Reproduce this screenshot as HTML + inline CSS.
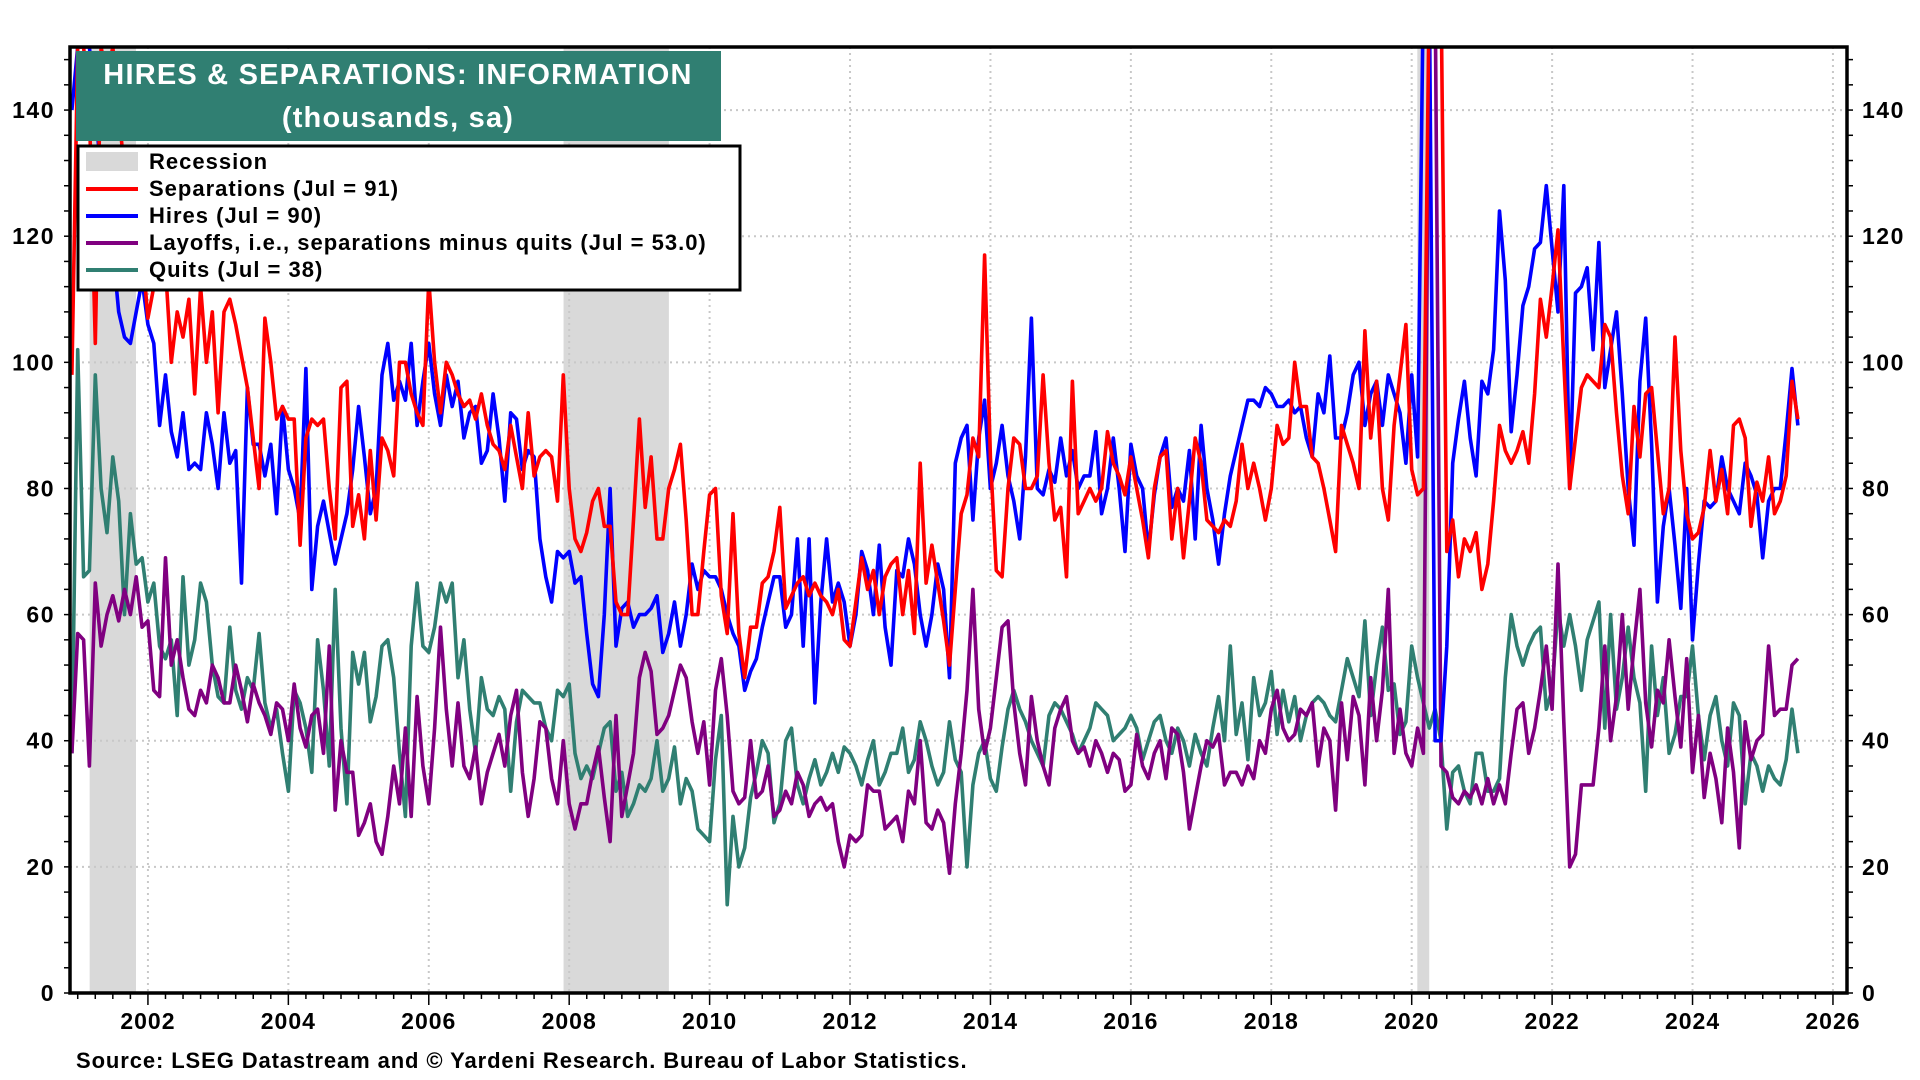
<!DOCTYPE html>
<html><head><meta charset="utf-8"><style>
html,body{margin:0;padding:0;background:#fff;}
svg{display:block;font-family:"Liberation Sans",Arial,sans-serif;}
</style></head><body>
<svg id="chart" width="1920" height="1080" viewBox="0 0 1920 1080" xmlns="http://www.w3.org/2000/svg">
<defs><clipPath id="plotclip"><rect x="70" y="47" width="1777" height="946"/></clipPath></defs>
<g id="recess" clip-path="url(#plotclip)"></g>
<g id="grid"></g>
<g id="series" clip-path="url(#plotclip)"></g>
<rect x="70" y="47" width="1777" height="946" fill="none" stroke="#000" stroke-width="3.5"/>
<g id="axes"></g>
<g>
<rect x="76" y="51" width="645" height="90" fill="#307F72"/>
<text x="398" y="84" text-anchor="middle" fill="#fff" font-size="29" font-weight="bold" letter-spacing="1.2">HIRES &amp; SEPARATIONS: INFORMATION</text>
<text x="398" y="127" text-anchor="middle" fill="#fff" font-size="29" font-weight="bold" letter-spacing="1.2">(thousands, sa)</text>
</g>
<g font-size="22" font-weight="bold" letter-spacing="1">
<rect x="78" y="146" width="662" height="144" fill="#fff" stroke="#000" stroke-width="3"/>
<rect x="86" y="152" width="52" height="19" fill="#d9d9d9"/>
<text x="149" y="169">Recession</text>
<line x1="86" y1="189" x2="138" y2="189" stroke="#ff0000" stroke-width="4"/>
<text x="149" y="196">Separations (Jul = 91)</text>
<line x1="86" y1="216" x2="138" y2="216" stroke="#0000ff" stroke-width="4"/>
<text x="149" y="223">Hires (Jul = 90)</text>
<line x1="86" y1="243" x2="138" y2="243" stroke="#800080" stroke-width="4"/>
<text x="149" y="250">Layoffs, i.e., separations minus quits (Jul = 53.0)</text>
<line x1="86" y1="270" x2="138" y2="270" stroke="#307F72" stroke-width="4"/>
<text x="149" y="277">Quits (Jul = 38)</text>
</g>
<text x="76" y="1068" font-size="22" font-weight="bold" letter-spacing="0.9">Source: LSEG Datastream and © Yardeni Research. Bureau of Labor Statistics.</text>
</svg>
<script>
// Monthly data starting Dec 2000
const startYear = 2000 + 11/12;
const separations = [98,
150,150,140,103,150,145,150,140,130,120,115,118,
107,112,120,115,100,108,104,110,95,112,100,108,
92,108,110,106,101,96,88,80,107,100,91,93,
91,91,71,88,91,90,91,80,72,96,97,74,
79,72,86,75,88,86,82,100,100,95,92,90,
113,100,92,100,98,95,93,94,91,95,90,87,
86,83,90,85,80,92,82,85,86,85,78,98,
80,72,70,73,78,80,74,74,62,60,60,75,
91,77,85,72,72,80,83,87,75,60,60,70,
79,80,63,57,76,57,50,58,58,65,66,70,
77,61,63,65,66,63,65,63,62,60,64,56,
55,62,69,64,67,60,66,68,69,60,67,57,
84,65,71,65,59,52,64,76,79,88,85,117,
85,67,66,80,88,87,80,80,82,98,84,75,
77,66,97,76,78,80,78,80,89,84,82,79,
85,80,75,69,80,85,86,72,80,69,78,88,
84,75,74,73,75,74,78,87,80,84,80,75,
80,90,87,88,100,93,93,85,84,80,75,70,
90,87,84,80,105,88,97,80,75,90,98,106,
83,79,80,160,160,160,70,75,66,72,70,73,
64,68,78,90,86,84,86,89,84,95,110,104,
112,121,100,80,88,96,98,97,96,106,104,92,
82,76,93,85,95,96,86,76,80,104,86,76,
72,73,77,86,78,83,76,90,91,88,74,81,
78,85,76,78,82,97,91];
const hires = [140,
150,150,150,140,130,125,118,108,104,103,108,113,
106,103,90,98,89,85,92,83,84,83,92,87,
80,92,84,86,65,96,87,87,82,87,76,93,
83,80,75,99,64,74,78,73,68,72,76,83,
93,85,76,80,98,103,94,97,94,103,90,97,
103,95,90,98,93,97,88,92,93,84,86,95,
88,78,92,91,83,86,85,72,66,62,70,69,
70,65,66,57,49,47,60,80,55,61,62,58,
60,60,61,63,54,57,62,55,60,68,64,67,
66,66,64,60,57,55,48,51,53,58,62,66,
66,58,60,72,55,72,46,62,72,62,65,62,
55,60,70,67,60,71,58,52,67,66,72,68,
60,55,60,68,64,50,84,88,90,75,88,94,
80,84,90,82,78,72,85,107,80,79,83,81,
88,82,86,80,82,82,89,76,80,88,80,70,
87,82,80,70,79,85,88,77,80,78,86,72,
90,80,75,68,76,82,86,90,94,94,93,96,
95,93,93,94,92,93,88,85,95,92,101,88,
88,92,98,100,90,95,97,90,98,95,92,84,
98,85,160,160,40,40,55,84,91,97,88,82,
97,95,102,124,113,89,98,109,112,118,119,128,
118,108,128,80,111,112,115,102,119,96,102,108,
95,80,71,97,107,87,62,74,80,71,61,80,
56,68,78,77,78,85,80,78,76,84,82,79,
69,78,80,80,89,99,90];
const layoffs = [38,
57,56,36,65,55,60,63,59,64,60,66,58,
59,48,47,69,52,56,50,45,44,48,46,52,
50,46,46,52,48,43,49,46,44,41,46,45,
40,49,42,39,44,45,38,55,29,40,35,35,
25,27,30,24,22,28,36,30,42,28,47,36,
30,42,58,45,36,46,36,34,39,30,35,38,
41,36,44,48,35,28,34,43,42,34,30,40,
30,26,30,30,35,39,31,24,44,28,33,38,
50,54,51,41,42,44,48,52,50,43,38,43,
33,48,53,44,32,30,31,40,31,32,36,28,
29,32,30,35,33,28,30,31,29,30,24,20,
25,24,25,33,32,32,26,27,28,24,32,30,
40,27,26,29,27,19,30,38,48,64,45,38,
42,50,58,59,46,38,33,47,40,36,33,42,
45,47,40,38,39,36,40,38,35,38,37,32,
33,41,36,34,38,40,34,42,41,35,26,31,
36,40,39,41,33,35,35,33,36,34,40,38,
45,48,42,40,41,45,44,46,36,42,40,29,
46,37,47,44,33,50,40,48,64,38,45,38,
36,42,38,160,160,36,35,31,30,32,31,33,
30,34,30,33,30,38,45,46,38,42,48,55,
45,68,43,20,22,33,33,33,42,55,40,47,
60,45,55,64,46,39,48,46,56,47,39,53,
35,44,31,38,34,27,42,35,23,43,37,40,
41,55,44,45,45,52,53];
const quits = [38,
102,66,67,98,80,73,85,78,60,76,68,69,
62,65,55,53,56,44,66,52,56,65,62,52,
47,46,58,48,45,50,48,57,46,42,45,38,
32,48,46,42,35,56,48,36,64,42,30,54,
49,54,43,47,55,56,50,38,28,55,65,55,
54,58,65,62,65,50,56,45,38,50,45,44,
47,45,32,43,48,47,46,46,42,40,48,47,
49,38,34,36,34,38,42,43,32,35,28,30,
33,32,34,40,32,34,39,30,34,32,26,25,
24,37,44,14,28,20,23,31,35,40,38,27,
30,40,42,33,30,34,37,33,35,38,35,39,
38,36,33,37,40,33,35,38,38,42,35,37,
43,40,36,33,35,43,37,35,20,33,38,40,
34,32,39,45,48,45,43,40,38,36,44,46,
45,43,41,38,40,42,46,45,44,40,41,42,
44,42,37,40,43,44,40,38,42,40,36,41,
38,36,42,47,40,55,41,46,37,50,44,46,
51,41,48,43,47,40,44,46,47,46,44,43,
48,53,50,47,59,44,52,58,48,49,41,43,
55,50,46,42,45,40,26,35,36,32,30,38,
38,32,32,34,50,60,55,52,55,57,58,45,
48,61,55,60,55,48,56,59,62,42,60,45,
50,58,50,46,32,55,44,50,38,41,47,47,
55,44,37,44,47,40,36,46,44,30,38,36,
32,36,34,33,37,45,38];
const recessionStarts = [2001.17, 2007.92, 2020.08];
const recessionEnds = [2001.83, 2009.42, 2020.25];
const yTicks = [0,20,40,60,80,100,120,140];
const xTickYears = [2002,2004,2006,2008,2010,2012,2014,2016,2018,2020,2022,2024,2026];

const NS = "http://www.w3.org/2000/svg";
const L = 70, R = 1847, T = 47, B = 993;
const xMin = 2000.89, xMax = 2026.2, yMin = 0, yMax = 150;
function xs(t){ return L + (t - xMin) / (xMax - xMin) * (R - L); }
function ys(v){ return B - (v - yMin) / (yMax - yMin) * (B - T); }
function mk(tag, attrs, parent){ const e = document.createElementNS(NS, tag); for (const k in attrs) e.setAttribute(k, attrs[k]); parent.appendChild(e); return e; }

const rg = document.getElementById('recess');
recessionStarts.forEach((s, i) => {
  const r = mk('rect', {x: xs(s), y: T, width: xs(recessionEnds[i]) - xs(s), height: B - T, fill: '#d9d9d9'}, rg);
  
  
});

const gg = document.getElementById('grid');
yTicks.forEach(v => {
  if (v === 0) return;
  const g = mk('line', {x1: L, x2: R, y1: ys(v), y2: ys(v), stroke: '#c8c8c8', 'stroke-width': 2, 'stroke-dasharray': '2,4'}, gg);
  
  
});
xTickYears.forEach(yr => {
  const g = mk('line', {x1: xs(yr), x2: xs(yr), y1: T, y2: B, stroke: '#c8c8c8', 'stroke-width': 2, 'stroke-dasharray': '2,4'}, gg);
  
  
});

const sg = document.getElementById('series');
function drawSeries(arr, color, name){
  const pts = arr.map((v, i) => xs(startYear + i / 12).toFixed(1) + ',' + ys(v).toFixed(1)).join(' ');
  const p = mk('polyline', {points: pts, fill: 'none', stroke: color, 'stroke-width': 3.6, 'stroke-linejoin': 'round'}, sg);
  
  
}
drawSeries(quits, '#307F72', 'quits-line');
drawSeries(layoffs, '#800080', 'layoffs-line');
drawSeries(hires, '#0000ff', 'hires-line');
drawSeries(separations, '#ff0000', 'separations-line');

const ag = document.getElementById('axes');
for (let v = 0; v <= 148; v += 4) {
  const l1 = mk('line', {x1: L - 6, x2: L, y1: ys(v), y2: ys(v), stroke: '#000', 'stroke-width': 1.5}, ag);
  
  
  const l2 = mk('line', {x1: R, x2: R + 6, y1: ys(v), y2: ys(v), stroke: '#000', 'stroke-width': 1.5}, ag);
  
  
}
yTicks.forEach(v => {
  const t1 = mk('text', {x: 55, y: ys(v) + 8, 'text-anchor': 'end', 'font-size': 23, 'font-weight': 'bold', 'letter-spacing': 1.5}, ag);
  t1.textContent = v;
  
  
  const t2 = mk('text', {x: 1862, y: ys(v) + 8, 'text-anchor': 'start', 'font-size': 23, 'font-weight': 'bold', 'letter-spacing': 1.5}, ag);
  t2.textContent = v;
  
  
});
for (let q = Math.ceil(xMin * 4); q <= Math.floor(xMax * 4); q++) {
  const t = q / 4;
  const major = Number.isInteger(t) && t % 2 === 0;
  const tk = mk('line', {x1: xs(t), x2: xs(t), y1: B, y2: B + (major ? 12 : 6), stroke: '#000', 'stroke-width': 1.5}, ag);
  
  
}
xTickYears.forEach(yr => {
  const t = mk('text', {x: xs(yr), y: 1029, 'text-anchor': 'middle', 'font-size': 23, 'font-weight': 'bold', 'letter-spacing': 1}, ag);
  t.textContent = yr;
  
  
});
</script>
</body></html>
